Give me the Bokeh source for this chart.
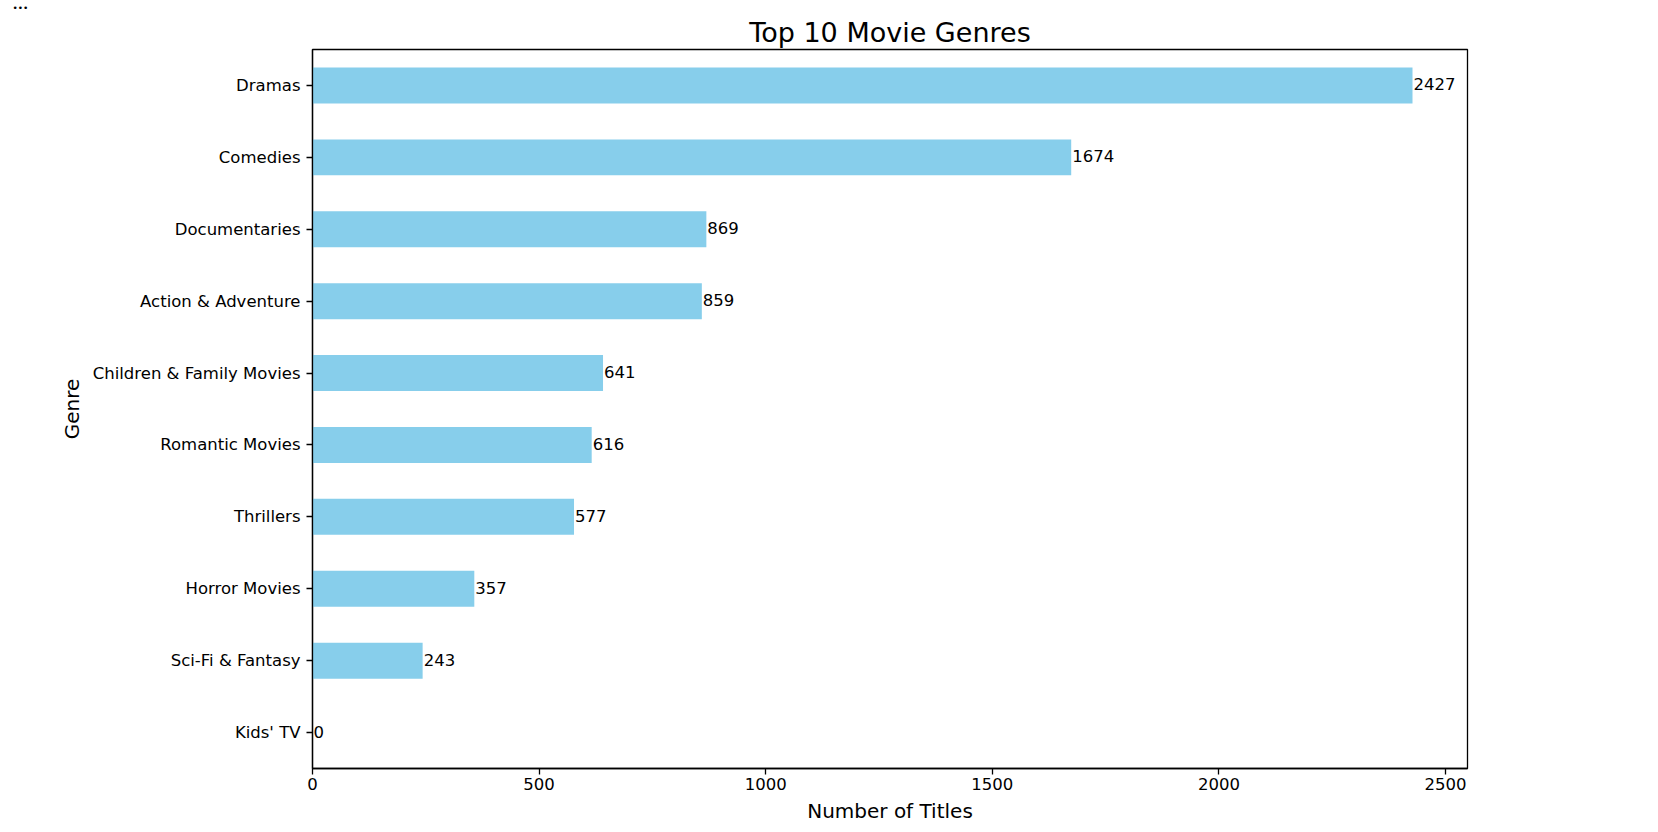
from bokeh.plotting import figure
from bokeh.models import Range1d, FactorRange, ColumnDataSource, Title, FixedTicker
from bokeh.embed import file_html
from bokeh.resources import INLINE
from bokeh.core.properties import value

genres = ["Dramas", "Comedies", "Documentaries", "Action & Adventure",
          "Children & Family Movies", "Romantic Movies", "Thrillers",
          "Horror Movies", "Sci-Fi & Fantasy", "Kids' TV"]
counts = [2427, 1674, 869, 859, 641, 616, 577, 357, 243, 0]
x_ticks = [0, 500, 1000, 1500, 2000, 2500]

FONT = "DejaVu Sans"
FRAME_W, FRAME_H = 1155, 719
LEFT, TOP = 312, 46

src = ColumnDataSource(dict(genre=genres, count=counts,
                            label=[str(c) for c in counts]))

p = figure(
    y_range=FactorRange(factors=list(reversed(genres)), range_padding=0),
    x_range=Range1d(0, max(counts) * 1.05),
    frame_width=FRAME_W, frame_height=FRAME_H,
    min_border_left=LEFT, min_border_top=TOP, min_border_right=120,
    min_border_bottom=58,
    output_backend="svg", toolbar_location=None,
    title=None,
)

p.hbar(y="genre", right="count", left=0, height=0.5, source=src,
       fill_color="#87CEEB", line_color=None)

p.text(x="count", y="genre", text="label", source=src,
       text_font=value(FONT), text_font_size="16.5px",
       text_baseline="middle", text_align="left", x_offset=1, y_offset=-1,
       text_color="black")

# main title (nearest the frame)
p.add_layout(Title(text="Top 10 Movie Genres", text_font=FONT,
                   text_font_size="27px", text_font_style="normal",
                   text_color="black", align="center", standoff=4), "above")

# the "..." marker at the top-left of the page (outermost)
p.add_layout(Title(text="•••", text_font=FONT, text_font_size="9px",
                   text_font_style="normal", text_color="black",
                   align="left", offset=-300, standoff=0), "above")

p.xgrid.visible = False
p.ygrid.visible = False

p.outline_line_color = "black"
p.outline_line_width = 1.3
p.outline_line_alpha = 1
p.background_fill_color = "white"
p.border_fill_color = "white"

for ax in (p.xaxis[0], p.yaxis[0]):
    ax.axis_line_color = "black"
    ax.axis_line_width = 1.3
    ax.major_tick_line_color = "black"
    ax.major_tick_line_width = 1.3
    ax.major_tick_out = 6
    ax.major_tick_in = 0
    ax.minor_tick_line_color = None
    ax.major_label_text_font = FONT
    ax.major_label_text_font_size = "16.5px"
    ax.major_label_text_color = "black"
    ax.axis_label_text_font = FONT
    ax.axis_label_text_font_size = "20px"
    ax.axis_label_text_font_style = "normal"
    ax.axis_label_text_color = "black"

p.xaxis.ticker = FixedTicker(ticks=x_ticks)
p.xaxis.axis_label = "Number of Titles"
p.xaxis.major_label_standoff = 3
p.xaxis.axis_label_standoff = 6
p.yaxis.axis_label = "Genre"
p.yaxis.major_label_standoff = 6
p.yaxis.axis_label_standoff = 6

open("out.html", "w").write(file_html(p, INLINE))
